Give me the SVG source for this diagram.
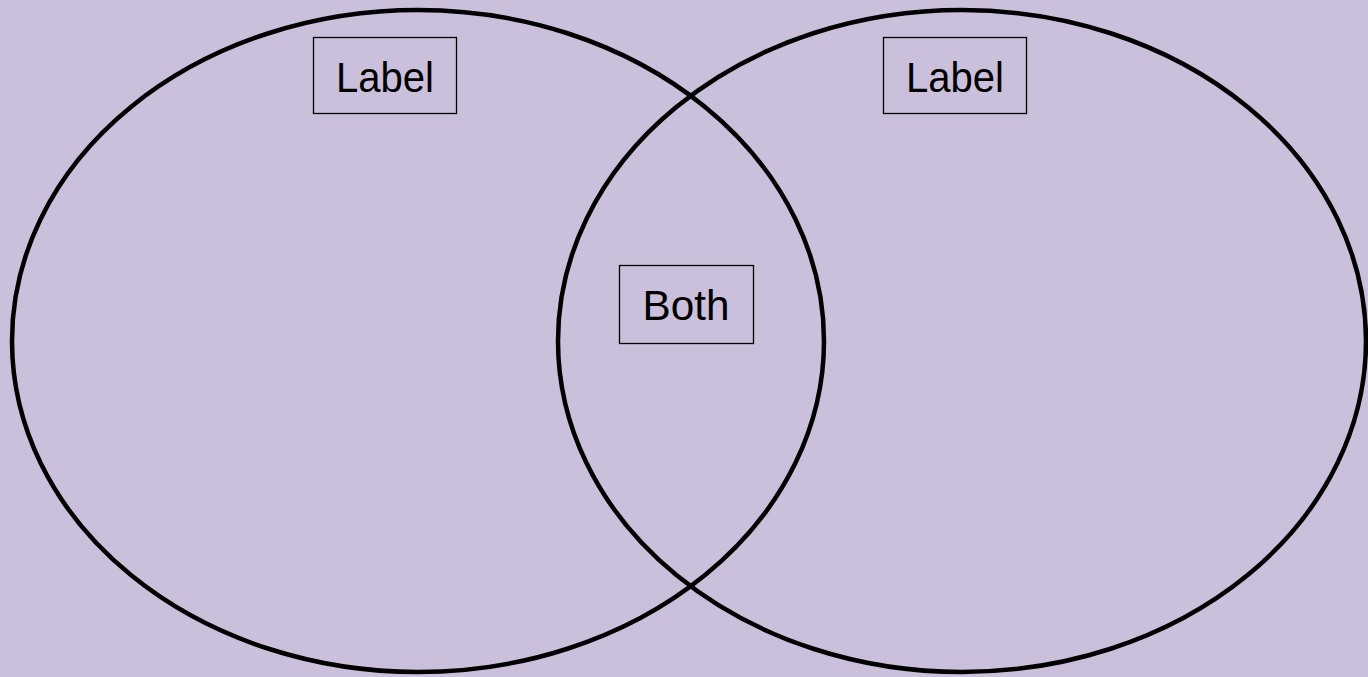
<svg xmlns="http://www.w3.org/2000/svg" width="1368" height="677" viewBox="0 0 1368 677">
<style>
.ring{fill:none;stroke:#000;stroke-width:4.5}
.box{fill:none;stroke:#000;stroke-width:1.3}
.t{font-family:"Liberation Sans",Arial,sans-serif;font-size:43px;fill:#000;text-anchor:middle}
</style>
<rect width="1368" height="677" fill="#CAC0DB"/>
<g id="left-set"><ellipse class="ring" cx="418" cy="341" rx="406" ry="331"/></g>
<g id="right-set"><ellipse class="ring" cx="962" cy="341" rx="404" ry="331"/></g>
<g id="label-left"><rect class="box" x="313.5" y="37.5" width="143" height="76"/><text class="t" x="385" y="92" textLength="98" lengthAdjust="spacingAndGlyphs">Label</text></g>
<g id="label-right"><rect class="box" x="883.5" y="37.5" width="143" height="76"/><text class="t" x="955" y="92" textLength="98" lengthAdjust="spacingAndGlyphs">Label</text></g>
<g id="label-both"><rect class="box" x="619.5" y="265.5" width="134" height="78"/><text class="t" x="686" y="320" textLength="87" lengthAdjust="spacingAndGlyphs">Both</text></g>
<g id="connectors"/>
</svg>
